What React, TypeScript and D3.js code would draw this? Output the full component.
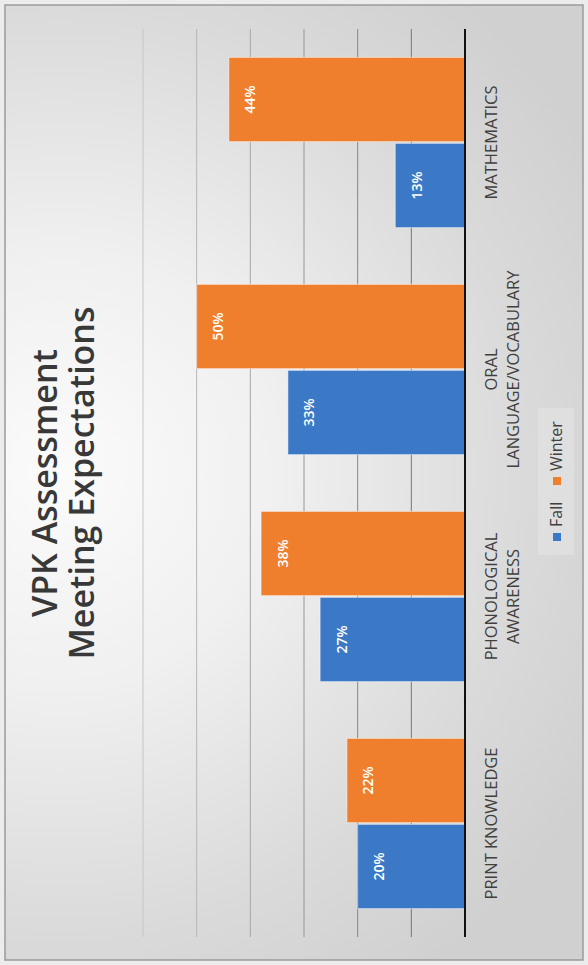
import React from "react";
import * as d3 from "d3";

const categories = ["PRINT KNOWLEDGE", "PHONOLOGICAL AWARENESS", "ORAL LANGUAGE/VOCABULARY", "MATHEMATICS"];
const categoryLines = [["PRINT KNOWLEDGE"], ["PHONOLOGICAL", "AWARENESS"], ["ORAL", "LANGUAGE/VOCABULARY"], ["MATHEMATICS"]];
const seriesNames = ["Fall", "Winter"];
const fallValues = [0.20, 0.27, 0.33, 0.13];
const winterValues = [0.22, 0.38, 0.50, 0.44];
const gridTicks = [0.1, 0.2, 0.3, 0.4, 0.5, 0.6];
const titleLines = ["VPK Assessment", "Meeting Expectations"];

const W = 588;
const H = 965;
const colors = ["#3b79c7", "#ef7f2d"];
const FONT = "'Open Sans', 'DejaVu Sans', sans-serif";

export default function App() {
  // landscape frame (before rotation): width = H, height = W
  const x = d3.scaleBand<string>().domain(categories).range([28, 936]).paddingInner(0.25).paddingOuter(0.125);
  const xs = d3.scaleBand<string>().domain(seriesNames).range([0, x.bandwidth()]).paddingInner(0.02);
  const y = d3.scaleLinear().domain([0, 0.6]).range([465, 143]);
  const gridColor = d3.scaleLinear<string>().domain([0.1, 0.6]).range(["#767676", "#c6c6c6"]);
  const series = [fallValues, winterValues];
  const cx = (x(categories[0])! + x(categories[categories.length - 1])! + x.bandwidth()) / 2;

  return (
    <svg width={W} height={H} style={{ position: "absolute", left: 0, top: 0 }} fontFamily={FONT}>
      <defs>
        <radialGradient id="bg" cx="60" cy="470" r="620" gradientUnits="userSpaceOnUse">
          <stop offset="0" stopColor="#fbfbfb" />
          <stop offset="0.35" stopColor="#f0f0f0" />
          <stop offset="0.75" stopColor="#dadada" />
          <stop offset="1" stopColor="#d0d0d0" />
        </radialGradient>
      </defs>
      <rect x={0} y={0} width={W} height={H} fill="#ececec" />
      <rect x={5} y={5} width={W - 10} height={H - 10} fill="url(#bg)" stroke="#9a9a9a" strokeWidth={1.5} />
      <g transform={`translate(0,${H}) rotate(-90)`}>
        {/* title */}
        {titleLines.map((t, i) => (
          <text key={t} x={cx} y={57 + i * 37} textAnchor="middle" fontSize={34} fontWeight={600} fill="#383838">
            {t}
          </text>
        ))}
        {/* gridlines */}
        {gridTicks.map((t) => (
          <line key={t} x1={28} x2={936} y1={y(t)} y2={y(t)} stroke={gridColor(t)} strokeWidth={1} />
        ))}
        {/* bars */}
        {categories.map((c, ci) => (
          <g key={c}>
            {seriesNames.map((s, si) => {
              const v = series[si][ci];
              const bx = x(c)! + xs(s)!;
              return (
                <g key={s}>
                  <rect x={bx} y={y(v)} width={xs.bandwidth()} height={y(0) - y(v)} fill={colors[si]} stroke="#fff" strokeOpacity={0.5} strokeWidth={1} />
                  <text x={bx + xs.bandwidth() / 2} y={y(v) + 21} textAnchor="middle" dominantBaseline="central" fontSize={14} fontWeight={600} fill="#ffffff">
                    {Math.round(v * 100)}%
                  </text>
                </g>
              );
            })}
          </g>
        ))}
        {/* axis baseline */}
        <line x1={28} x2={936} y1={y(0)} y2={y(0)} stroke="#111" strokeWidth={2} />
        {/* category labels */}
        {categories.map((c, ci) => (
          <text key={c} x={x(c)! + x.bandwidth() / 2} textAnchor="middle" fontSize={16.5} fill="#404040">
            {categoryLines[ci].map((l, li) => (
              <tspan key={l} x={x(c)! + x.bandwidth() / 2} y={497 + li * 22}>
                {l}
              </tspan>
            ))}
          </text>
        ))}
        {/* legend */}
        <rect x={410} y={538} width={147} height={36} fill="#ffffff" fillOpacity={0.2} />
        {seriesNames.map((s, si) => {
          const lx = [424, 480][si];
          return (
            <g key={s}>
              <rect x={lx} y={553} width={8} height={8} fill={colors[si]} />
              <text x={lx + 14} y={562} fontSize={16} fill="#404040">
                {s}
              </text>
            </g>
          );
        })}
      </g>
    </svg>
  );
}
